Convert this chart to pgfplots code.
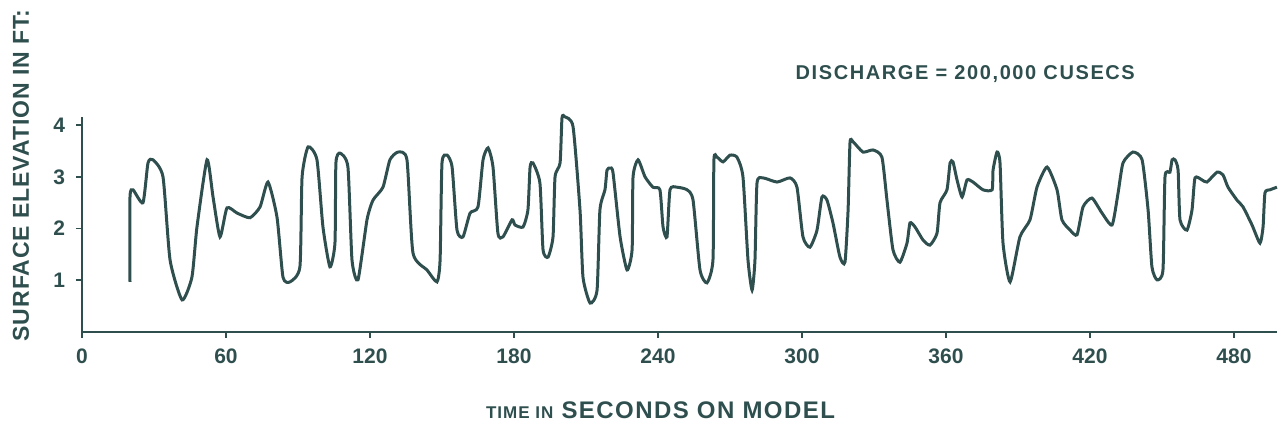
\documentclass[border=0pt]{standalone}
\usepackage{fontspec}
\setmainfont{Liberation Sans}
\usepackage{pgfplots}
\pgfplotsset{compat=1.18}
\definecolor{ink}{HTML}{2F4F4F}
\begin{document}
\begin{tikzpicture}
\begin{axis}[
  scale only axis,
  width=597.6pt, height=107.3pt,
  xmin=0, xmax=498, ymin=0, ymax=4.15,
  axis lines=left,
  axis line style={-, ink, line width=1pt},
  tick style={ink, line width=0.8pt},
  tick align=outside,
  major tick length=3pt,
  xtick={0,60,...,480},
  ytick={1,2,3,4},
  /pgf/number format/assume math mode=true,
  xticklabel style={font=\fontsize{10.5}{12}\selectfont\bfseries, text=ink, yshift=-2pt},
  yticklabel style={font=\fontsize{10.5}{12}\selectfont\bfseries, text=ink, xshift=-2pt},
  clip=false,
]
\addplot[ink, line width=1.5pt, smooth, tension=0.35] coordinates {
(20.0,0.97) (20.0,2.61) (21.25,2.75) (25.4,2.50) (27.5,3.27) (29.6,3.33) (33.75,3.00)
(36.7,1.39) (41.7,0.62) (45.8,1.06) (47.9,2.03) (52.1,3.33) (54.6,2.61) (57.5,1.84)
(60.4,2.40) (64.6,2.30) (70.0,2.21) (74.2,2.42) (77.5,2.90) (81.25,2.22) (83.75,1.06)
(86.7,0.97) (90.8,1.26) (91.7,3.00) (94.2,3.58) (97.9,3.33) (100.4,2.03) (103.3,1.26)
(105.4,1.72) (105.8,3.27) (107.5,3.46) (110.8,3.19) (112.5,1.39) (115.0,1.01)
(118.75,2.17) (121.25,2.55) (125.4,2.80) (128.3,3.33) (131.7,3.48) (135.4,3.33)
(137.9,1.53) (143.75,1.20) (147.9,0.97) (149.2,1.39) (150.0,3.27) (152.1,3.42)
(154.2,3.19) (156.25,1.97) (158.75,1.84) (161.7,2.30) (165.0,2.42) (167.1,3.33)
(169.2,3.56) (171.25,3.19) (173.3,1.91) (175.4,1.84) (179.2,2.17) (180.4,2.07)
(183.75,2.03) (185.8,2.36) (186.7,3.19) (187.9,3.27) (190.8,2.88) (192.1,1.59)
(194.2,1.45) (196.25,1.84) (197.1,3.00) (199.2,3.27) (200.0,4.14) (201.25,4.16)
(204.6,3.97) (207.5,2.36) (208.75,1.06) (211.7,0.56) (214.6,0.81) (215.8,2.36)
(217.9,2.75) (218.75,3.13) (220.0,3.17) (221.25,3.08) (224.2,1.84) (227.1,1.20)
(229.2,1.59) (229.6,3.00) (231.7,3.33) (234.6,3.00) (237.9,2.80) (240.8,2.75)
(242.1,2.03) (243.75,1.84) (245.0,2.75) (247.9,2.80) (252.1,2.75) (254.6,2.55)
(257.5,1.20) (260.4,0.95) (262.9,1.39) (263.3,3.33) (264.6,3.38) (267.1,3.29)
(270.0,3.42) (272.9,3.38) (275.4,3.00) (277.5,1.39) (279.2,0.81) (280.4,1.39)
(281.25,2.88) (283.75,2.98) (289.6,2.90) (295.0,2.98) (297.9,2.80) (300.4,1.84)
(303.3,1.64) (306.25,1.97) (308.3,2.61) (310.4,2.55) (312.9,2.11) (315.8,1.45)
(317.9,1.35) (319.2,2.36) (320.0,3.66) (321.25,3.68) (325.4,3.48) (329.6,3.52)
(333.3,3.38) (335.4,2.55) (337.9,1.59) (340.8,1.35) (343.75,1.72) (345.0,2.11)
(347.1,2.03) (350.4,1.78) (353.3,1.68) (356.25,1.91) (357.5,2.50) (360.4,2.75)
(361.7,3.27) (362.9,3.29) (364.6,2.94) (366.7,2.61) (368.75,2.94) (371.25,2.90)
(375.4,2.75) (379.2,2.75) (379.6,3.13) (381.25,3.48) (382.5,3.27) (383.75,1.72)
(386.7,0.97) (390.8,1.84) (395.0,2.17) (397.9,2.80) (402.1,3.19) (406.25,2.75)
(408.3,2.17) (411.7,1.97) (414.6,1.88) (417.1,2.42) (420.8,2.59) (425.0,2.30)
(429.2,2.07) (431.7,2.69) (433.75,3.27) (437.9,3.48) (441.7,3.33) (444.2,2.36)
(445.8,1.26) (447.9,1.01) (450.4,1.20) (451.25,3.00) (453.3,3.09) (454.2,3.33)
(455.4,3.33) (456.7,3.13) (457.5,2.17) (460.4,1.97) (462.5,2.36) (463.75,2.98)
(466.7,2.94) (468.75,2.90) (472.9,3.09) (475.4,3.04) (477.5,2.80) (481.25,2.55)
(483.75,2.42) (487.5,2.07) (490.8,1.72) (492.1,2.03) (492.9,2.69) (495.0,2.75)
(497.9,2.80)
};
\node[text=ink, rotate=90, font=\fontsize{11.5}{14}\selectfont\bfseries\addfontfeatures{LetterSpace=4}]
  at (axis description cs:-0.051,0.73) {SURFACE ELEVATION IN FT:};
\node[text=ink, font=\fontsize{12}{14}\selectfont\bfseries\addfontfeatures{LetterSpace=6}]
  at (axis description cs:0.484,-0.364) {{\fontsize{8.5}{10}\selectfont TIME IN} SECONDS ON MODEL};
\node[text=ink, font=\fontsize{10}{12}\selectfont\bfseries\addfontfeatures{LetterSpace=8}]
  at (axis description cs:0.739,1.20) {DISCHARGE = 200,000 CUSECS};
\end{axis}
\pgfresetboundingbox
\path[use as bounding box] (-41pt,-48.5pt) rectangle (598pt,166pt);
\end{tikzpicture}
\end{document}
